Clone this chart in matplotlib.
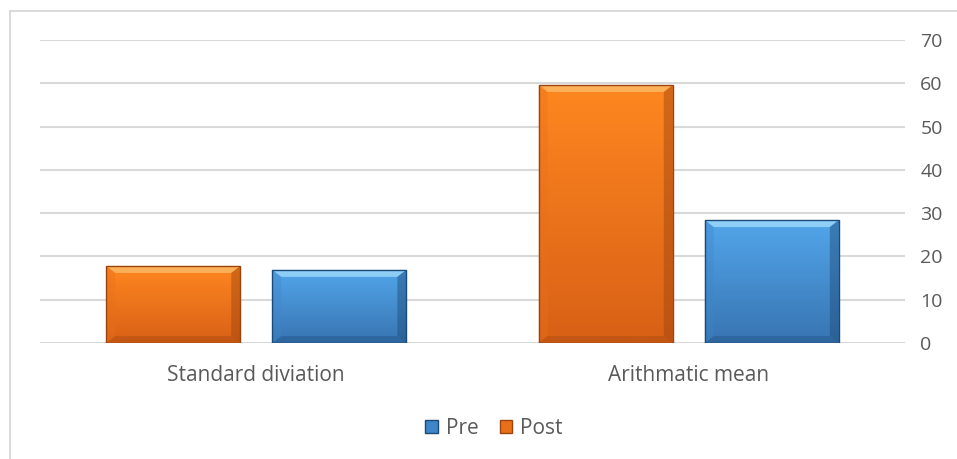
import numpy as np
import matplotlib.pyplot as plt
from matplotlib.patches import Rectangle, Polygon, Patch
from matplotlib.colors import LinearSegmentedColormap

categories = ["Standard diviation", "Arithmatic mean"]
post = [17.8, 59.6]
pre = [16.9, 28.4]

FONT = "Open Sans"
TXT = "#595959"
GRID = "#D9D9D9"

# light/dark stops for the vertical gradient and bevel facets
ORANGE = dict(top="#FF8720", bot="#D86016", hi="#FFB864", lo="#9C440E", side="#E8701A")
BLUE = dict(top="#52A6EA", bot="#3874B2", hi="#9AD6FA", lo="#1C4A78", side="#3E86C8")

W, H = 957, 459
fig = plt.figure(figsize=(W / 100, H / 100), dpi=100)
ax = fig.add_axes([40 / W, 1 - 343 / H, 865 / W, 303 / H])

ax.set_xlim(-0.5, 1.5)
ax.set_ylim(0, 70)
ax.set_yticks(range(0, 71, 10))
ax.yaxis.tick_right()
ax.tick_params(axis="y", length=0, pad=11, labelsize=14, labelcolor=TXT)
ax.tick_params(axis="x", length=0, pad=16, labelsize=15, labelcolor=TXT)
for lab in ax.get_yticklabels() + ax.get_xticklabels():
    lab.set_fontfamily(FONT)
ax.set_xticks(range(len(categories)))
ax.set_xticklabels(categories)
for s in ax.spines.values():
    s.set_visible(False)
ax.grid(axis="y", color=GRID, linewidth=1.5)
ax.set_axisbelow(True)

# pixel -> data scale for bevel sizes
px_x = 2.0 / 865
px_y = 70.0 / 303


def bevel_bar(x, h, width, c):
    x0, x1 = x - width / 2, x + width / 2
    # soft shadow
    ax.add_patch(Rectangle((x0 + 1 * px_x, -1.5 * px_y), width, h, color="#000000",
                           alpha=0.12, lw=0, zorder=2))
    cmap = LinearSegmentedColormap.from_list("g", [c["bot"], c["top"]])
    grad = np.linspace(0, 1, 256).reshape(-1, 1)
    im = ax.imshow(grad, cmap=cmap, origin="lower", aspect="auto",
                   extent=(x0, x1, 0, h), zorder=3)
    rect = Rectangle((x0, 0), width, h, transform=ax.transData, fill=False, lw=0)
    ax.add_patch(rect)
    im.set_clip_path(rect)
    bx, by = 9 * px_x, 7 * px_y
    facets = [
        ([(x0, h), (x1, h), (x1 - bx, h - by), (x0 + bx, h - by)], c["hi"], 0.85),
        ([(x0, 0), (x1, 0), (x1 - bx, by), (x0 + bx, by)], c["lo"], 0.35),
        ([(x0, 0), (x0, h), (x0 + bx, h - by), (x0 + bx, by)], c["side"], 0.35),
        ([(x1, 0), (x1, h), (x1 - bx, h - by), (x1 - bx, by)], c["lo"], 0.45),
    ]
    for pts, col, a in facets:
        ax.add_patch(Polygon(pts, closed=True, color=col, alpha=a, lw=0, zorder=4))
    ax.add_patch(Rectangle((x0, 0), width, h, fill=False, ec=c["lo"], lw=1.0, zorder=5))


bw = 0.31
off = 0.192
for i in range(len(categories)):
    bevel_bar(i - off, post[i], bw, ORANGE)
    bevel_bar(i + off, pre[i], bw, BLUE)

handles = [Patch(facecolor="#3E86C8", edgecolor="#1C4A78", label="Pre"),
           Patch(facecolor="#E8701A", edgecolor="#9C440E", label="Post")]
fig.legend(handles=handles, loc="center", bbox_to_anchor=(494 / W, 1 - 428 / H),
           ncol=2, frameon=False, handlelength=0.6, handleheight=0.6,
           handletextpad=0.4, columnspacing=1.0,
           prop={"family": FONT, "size": 15}, labelcolor=TXT)

# outer chart frame (top and left edges visible)
fig.add_artist(plt.Line2D([9.5 / W, 1.0], [1 - 10.5 / H] * 2, color=GRID, lw=1.4))
fig.add_artist(plt.Line2D([9.5 / W] * 2, [0.0, 1 - 10.5 / H], color=GRID, lw=1.4))

fig.savefig("out.png", dpi=100)
